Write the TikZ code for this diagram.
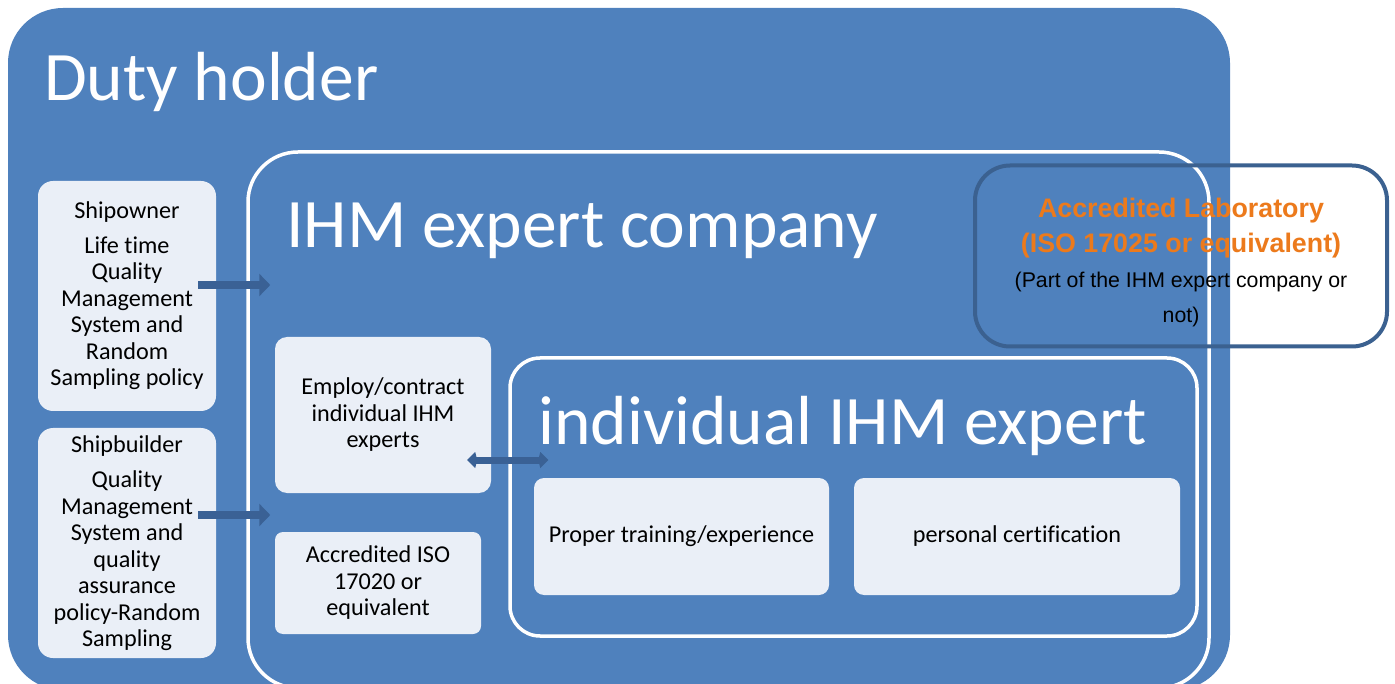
\documentclass[tikz,border=0pt]{standalone}
\usepackage{fontspec}
\setmainfont{Carlito}[Ligatures=NoCommon]
\newfontfamily\arialfont{Liberation Sans}
\usetikzlibrary{arrows.meta}
\definecolor{dutyblue}{HTML}{4F81BD}
\definecolor{boxfill}{HTML}{EAEFF7}
\definecolor{arrowblue}{HTML}{3A6195}
\definecolor{labedge}{HTML}{3B6190}
\definecolor{laborange}{HTML}{EC7A1C}
\begin{document}
\begin{tikzpicture}[x=1pt,y=-1pt,
	frame/.style={draw=white,line width=3.5pt,inner sep=0pt},
	card/.style={fill=boxfill,align=center,inner sep=0pt,font=\fontsize{24.2}{26.5}\selectfont},
	headline/.style={text=white,anchor=base west,inner sep=0pt,font=\fontsize{69.5}{72}\selectfont},
	flow/.style={arrowblue,line width=8pt,-{Triangle[width=22pt,length=11pt]}},
	twoway/.style={arrowblue,line width=7pt,{Kite[width=16pt,length=10pt,inset=2pt]}-{Kite[width=16pt,length=10pt,inset=2pt]}}]
	\useasboundingbox (0,0) rectangle (1395,684);
	\clip (0,0) rectangle (1395,684);
	\node[fill=dutyblue,rounded corners=55pt,minimum width=1222pt,minimum height=682pt,inner sep=0pt] (duty) at (619,349) {};
	\node[frame,rounded corners=50pt,minimum width=961pt,minimum height=536pt] (company) at (728.5,420) {};
	\node[frame,rounded corners=30pt,minimum width=687pt,minimum height=278pt] (expert) at (853.5,497) {};
	\node[headline] (dutytitle) at (44,101) {Duty holder};
	\node[headline] (companytitle) at (286,248) {IHM expert company};
	\node[headline] (experttitle) at (538,445) {individual IHM expert};
	\node[card,rounded corners=15pt,minimum width=178pt,minimum height=230pt] (owner) at (127,296) {Shipowner\\[8pt] Life time\\ Quality\\ Management\\ System and\\ Random\\ Sampling policy};
	\node[card,rounded corners=15pt,minimum width=178pt,minimum height=230pt] (builder) at (127,543) {Shipbuilder\\[9pt] Quality\\ Management\\ System and\\ quality\\ assurance\\ policy-Random\\ Sampling};
	\node[card,rounded corners=12pt,minimum width=216pt,minimum height=156pt] (employ) at (383,415) {Employ/contract\\ individual IHM\\ experts};
	\node[card,rounded corners=8pt,minimum width=206pt,minimum height=102pt] (iso) at (378,583) {Accredited ISO\\ 17020 or\\ equivalent};
	\node[card,rounded corners=10pt,minimum width=295pt,minimum height=117pt] (training) at (681.5,536.5) {Proper training/experience};
	\node[card,rounded corners=10pt,minimum width=326pt,minimum height=117pt] (cert) at (1017,536.5) {personal certification};
	\node[draw=labedge,line width=4pt,rounded corners=35pt,minimum width=412pt,minimum height=181pt,inner sep=0pt] (lab) at (1181,256) {};
	\node[align=center,inner sep=0pt,font=\arialfont\fontsize{21.3}{35}\selectfont] (labtext) at ([yshift=-6pt]lab.center) {{\bfseries\fontsize{26.8}{35}\selectfont\color{laborange}Accredited Laboratory}\\ {\bfseries\fontsize{26.8}{35}\selectfont\color{laborange}(ISO 17025 or equivalent)}\\ (Part of the IHM expert company or\\ not)};
	\draw[flow] ([xshift=-18pt,yshift=11pt]owner.east) -- ([xshift=24pt,yshift=135pt]company.west);
	\draw[flow] ([xshift=-18pt,yshift=28pt]builder.east) -- ([xshift=24pt,yshift=-95pt]company.west);
	\draw[twoway] ([xshift=-24pt,yshift=-45pt]employ.east) -- ([xshift=40pt,yshift=37pt]expert.west);
\end{tikzpicture}
\end{document}
